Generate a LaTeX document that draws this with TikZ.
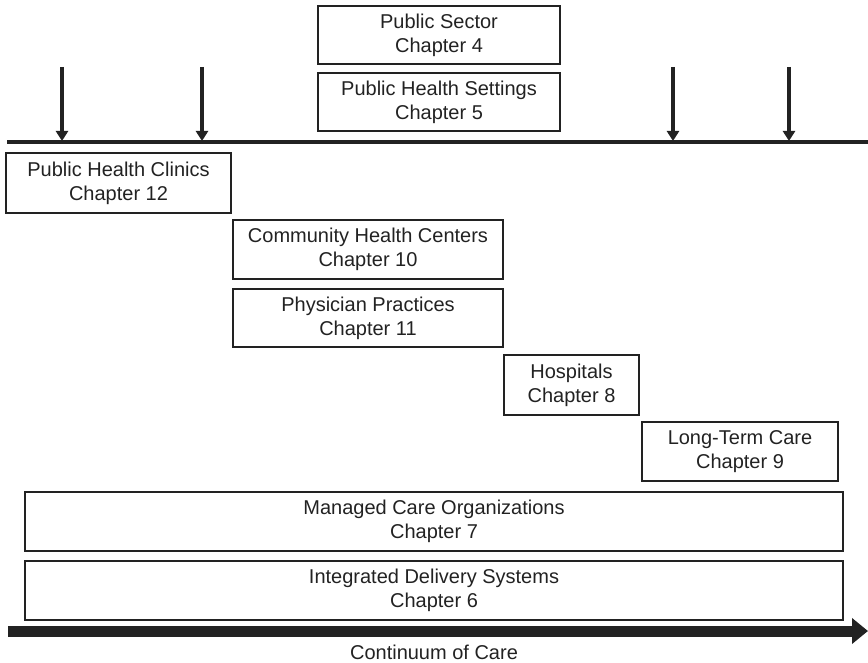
\documentclass[tikz,border=0pt]{standalone}
\usepackage{fontspec}
\setmainfont{Liberation Sans}
\usetikzlibrary{arrows.meta}
\definecolor{ink}{HTML}{222222}
\tikzset{
  chbox/.style={draw=ink, line width=1.4pt, text=ink, align=center, inner sep=0pt, outer sep=0pt,
    font=\fontsize{20}{24}\selectfont},
  droparrow/.style={draw=ink, line width=3.5pt, -{Triangle[width=12pt,length=10pt]}},
  axisline/.style={draw=ink, line width=4pt},
  bigarrow/.style={draw=ink, line width=11pt, -{Triangle[width=25pt,length=16pt]}},
  lbl/.style={text=ink, inner sep=0pt, font=\fontsize{20}{24}\selectfont}
}
\begin{document}
\begin{tikzpicture}[x=1pt,y=-1pt]
\useasboundingbox (0,0) rectangle (868,663);
\node[chbox, minimum width=242pt, minimum height=58pt] (ps) at (439,35) {Public Sector\\Chapter 4};
\node[chbox, minimum width=242pt, minimum height=58pt] (phs) at (439,102) {Public Health Settings\\Chapter 5};
\node[chbox, minimum width=225pt, minimum height=60pt] (phc) at (118.5,183) {Public Health Clinics\\Chapter 12};
\node[chbox, minimum width=270pt, minimum height=59pt] (chc) at (368,249.5) {Community Health Centers\\Chapter 10};
\node[chbox, minimum width=270pt, minimum height=58pt] (pp) at (368,318) {Physician Practices\\Chapter 11};
\node[chbox, minimum width=135pt, minimum height=60pt] (hosp) at (571.5,385) {Hospitals\\Chapter 8};
\node[chbox, minimum width=196pt, minimum height=59pt] (ltc) at (740,451.5) {Long-Term Care\\Chapter 9};
\node[chbox, minimum width=818pt, minimum height=59pt] (mco) at (434,521.5) {Managed Care Organizations\\Chapter 7};
\node[chbox, minimum width=818pt, minimum height=59pt] (ids) at (434,590.5) {Integrated Delivery Systems\\Chapter 6};
% horizontal line
\coordinate (hl) at (7,142);
\coordinate (hr) at (868,142);
\draw[axisline] (hl) -- (hr);
% drop arrows
\foreach \x [count=\i] in {62,202,673,789} {
  \coordinate (a\i) at (\x,67);
  \coordinate (b\i) at (\x,141);
  \draw[droparrow] (a\i) -- (b\i);
}
% continuum arrow
\coordinate (cl) at (8,631);
\coordinate (cr) at (868,631);
\draw[bigarrow] (cl) -- (cr);
\node[lbl] (coc) at (434,652) {Continuum of Care};
\end{tikzpicture}
\end{document}
